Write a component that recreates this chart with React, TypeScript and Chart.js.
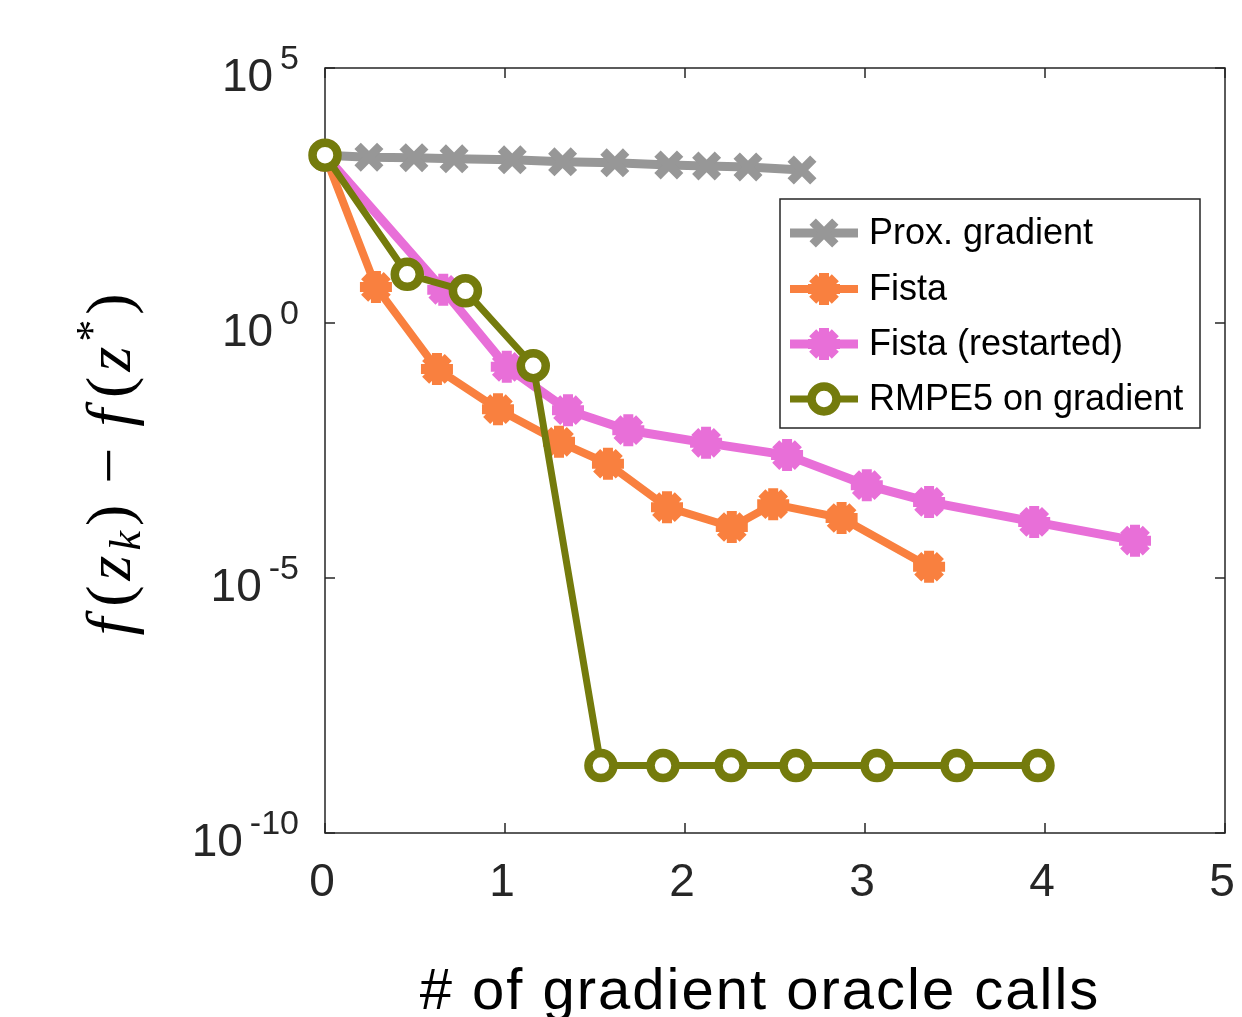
import React, { useEffect, useRef } from "react";
import { Chart, registerables } from "chart.js";

Chart.register(...registerables);

// ---------- data ----------
const seriesNames = ["Prox. gradient", "Fista", "Fista (restarted)", "RMPE5 on gradient"];

const proxX = [0, 0.244, 0.494, 0.717, 1.04, 1.32, 1.61, 1.91, 2.12, 2.35, 2.65];
const proxY = [1950, 1780, 1740, 1660, 1585, 1445, 1380, 1260, 1200, 1150, 1000];

const fistaX = [0, 0.283, 0.622, 0.961, 1.3, 1.572, 1.9, 2.26, 2.49, 2.87, 3.356];
const fistaY = [1950, 5.1, 0.126, 0.0204, 0.00468, 0.00174, 2.45e-4, 1.0e-4, 2.8e-4, 1.5e-4, 1.66e-5];

const restartX = [0, 0.657, 1.01, 1.35, 1.685, 2.117, 2.567, 3.01, 3.356, 3.94, 4.5];
const restartY = [1950, 4.47, 0.138, 0.0195, 0.0079, 0.00447, 0.00257, 6.6e-4, 3.1e-4, 1.26e-4, 5.4e-5];

const rmpeX = [0, 0.457, 0.78, 1.157, 1.533, 1.878, 2.256, 2.617, 3.067, 3.511, 3.961];
const rmpeY = [1950, 9.0, 4.27, 0.145, 2.1e-9, 2.1e-9, 2.1e-9, 2.1e-9, 2.1e-9, 2.1e-9, 2.1e-9];

const xTicks = [0, 1, 2, 3, 4, 5];
const yTickExponents = [5, 0, -5, -10];

const xTitle = "# of gradient oracle calls";

// ---------- styles ----------
const GRAY = "#979797";
const ORANGE = "#F9803F";
const PINK = "#E86FD8";
const OLIVE = "#747B0C";
const AXIS = "#262626";

const W = 1242;
const H = 1017;
// Chart.js reserves (pointRadius + pointBorderWidth) = 26 px on the right for point overflow,
// so the canvas is made that much wider than the plot's right edge (1225) and clipped by the wrapper.
const CANVAS_W = 1225 + 26;

type Marker = "crossRot" | "star" | "circle";

const seriesStyle: { color: string; marker: Marker; radius: number; bw: number; lw: number }[] = [
  { color: GRAY, marker: "crossRot", radius: 16, bw: 9, lw: 9 },
  { color: ORANGE, marker: "star", radius: 16, bw: 10, lw: 8 },
  { color: PINK, marker: "star", radius: 16, bw: 10, lw: 9 },
  { color: OLIVE, marker: "circle", radius: 12.5, bw: 8.5, lw: 7 },
];

const xs = [proxX, fistaX, restartX, rmpeX];
const ys = [proxY, fistaY, restartY, rmpeY];

function drawMarker(ctx: CanvasRenderingContext2D, m: Marker, x: number, y: number, r: number, color: string, bw: number) {
  ctx.save();
  ctx.strokeStyle = color;
  ctx.lineWidth = bw;
  ctx.beginPath();
  if (m === "circle") {
    ctx.fillStyle = "#ffffff";
    ctx.arc(x, y, r, 0, Math.PI * 2);
    ctx.fill();
    ctx.stroke();
  } else if (m === "crossRot") {
    const d = r * Math.SQRT1_2;
    ctx.moveTo(x - d, y - d);
    ctx.lineTo(x + d, y + d);
    ctx.moveTo(x - d, y + d);
    ctx.lineTo(x + d, y - d);
    ctx.stroke();
  } else {
    const d = r * Math.SQRT1_2;
    ctx.moveTo(x - r, y);
    ctx.lineTo(x + r, y);
    ctx.moveTo(x, y - r);
    ctx.lineTo(x, y + r);
    ctx.moveTo(x - d, y - d);
    ctx.lineTo(x + d, y + d);
    ctx.moveTo(x - d, y + d);
    ctx.lineTo(x + d, y - d);
    ctx.stroke();
  }
  ctx.restore();
}

const framePlugin = {
  id: "frame",
  beforeDatasetsDraw(chart: any) {
    const { ctx, chartArea: a, scales } = chart;
    ctx.save();
    ctx.strokeStyle = AXIS;
    ctx.lineWidth = 1.5;
    ctx.strokeRect(a.left, a.top, a.right - a.left, a.bottom - a.top);
    const tl = 10;
    ctx.beginPath();
    xTicks.forEach((v) => {
      const px = scales.x.getPixelForValue(v);
      ctx.moveTo(px, a.bottom);
      ctx.lineTo(px, a.bottom - tl);
      ctx.moveTo(px, a.top);
      ctx.lineTo(px, a.top + tl);
    });
    yTickExponents.forEach((e) => {
      const py = scales.y.getPixelForValue(Math.pow(10, e));
      ctx.moveTo(a.left, py);
      ctx.lineTo(a.left + tl, py);
      ctx.moveTo(a.right, py);
      ctx.lineTo(a.right - tl, py);
    });
    ctx.stroke();
    ctx.restore();
  },
  afterDraw(chart: any) {
    const { ctx, chartArea: a, scales } = chart;
    ctx.save();
    // x tick labels
    ctx.fillStyle = AXIS;
    ctx.font = '46px "Liberation Sans"';
    ctx.textAlign = "center";
    ctx.textBaseline = "middle";
    xTicks.forEach((v) => {
      ctx.fillText(String(v), scales.x.getPixelForValue(v) - 3, a.bottom + 50);
    });
    // y tick labels 10^e
    const rightEdge = a.left - 26;
    yTickExponents.forEach((e) => {
      const py = scales.y.getPixelForValue(Math.pow(10, e));
      const expStr = e < 0 ? "-" + String(-e) : String(e);
      ctx.textAlign = "right";
      ctx.textBaseline = "alphabetic";
      ctx.font = '34px "Liberation Sans"';
      const ew = ctx.measureText(expStr).width;
      ctx.fillText(expStr, rightEdge, py + 1);
      ctx.font = '46px "Liberation Sans"';
      ctx.fillText("10", rightEdge - ew - 7, py + 23);
    });
    // x title
    ctx.fillStyle = "#000000";
    ctx.font = '58px "Liberation Sans"';
    (ctx as any).letterSpacing = "2px";
    ctx.textAlign = "center";
    ctx.textBaseline = "alphabetic";
    ctx.fillText(xTitle, 760, a.bottom + 176);
    (ctx as any).letterSpacing = "0px";

    // y title: f(z_k) − f(z*)
    const big = 64;
    const small = 44;
    const gap = 5;
    const parts: { t: string; f: string; dy: number }[] = [
      { t: "f", f: `italic ${big}px "Liberation Serif"`, dy: 0 },
      { t: "(", f: `${big}px "Liberation Serif"`, dy: 0 },
      { t: "z", f: `italic ${big}px "Liberation Serif"`, dy: 0 },
      { t: "k", f: `italic ${small}px "Liberation Serif"`, dy: 10 },
      { t: ")", f: `${big}px "Liberation Serif"`, dy: 0 },
      { t: " \u2212 ", f: `${big}px "Liberation Serif"`, dy: 0 },
      { t: "f", f: `italic ${big}px "Liberation Serif"`, dy: 0 },
      { t: "(", f: `${big}px "Liberation Serif"`, dy: 0 },
      { t: "z", f: `italic ${big}px "Liberation Serif"`, dy: 0 },
      { t: "*", f: `${small}px "Liberation Serif"`, dy: -24 },
      { t: ")", f: `${big}px "Liberation Serif"`, dy: 0 },
    ];
    let total = 0;
    const widths = parts.map((p) => {
      ctx.font = p.f;
      const w = ctx.measureText(p.t).width + (p.t === "f" ? 6 : 0) + gap;
      total += w;
      return w;
    });
    ctx.translate(130, 462);
    ctx.rotate(-Math.PI / 2);
    ctx.textAlign = "left";
    ctx.textBaseline = "alphabetic";
    let cx = -total / 2;
    parts.forEach((p, i) => {
      ctx.font = p.f;
      ctx.fillText(p.t, cx, p.dy);
      cx += widths[i];
    });
    ctx.restore();

    // legend
    ctx.save();
    const lx = 780, ly = 199, lw = 420, lh = 229;
    ctx.fillStyle = "#ffffff";
    ctx.fillRect(lx, ly, lw, lh);
    ctx.strokeStyle = AXIS;
    ctx.lineWidth = 1.5;
    ctx.strokeRect(lx, ly, lw, lh);
    const rowY = [233, 289, 344, 399];
    seriesNames.forEach((name, i) => {
      const s = seriesStyle[i];
      const y = rowY[i];
      ctx.strokeStyle = s.color;
      ctx.lineWidth = s.lw;
      ctx.beginPath();
      ctx.moveTo(790, y);
      ctx.lineTo(858, y);
      ctx.stroke();
      drawMarker(ctx, s.marker, 824, y, s.radius, s.color, s.bw);
      ctx.fillStyle = "#000000";
      ctx.font = '36px "Liberation Sans"';
      ctx.textAlign = "left";
      ctx.textBaseline = "middle";
      ctx.fillText(name, 869, y + 1);
    });
    ctx.restore();
  },
};

export default function App() {
  const ref = useRef<HTMLCanvasElement | null>(null);
  useEffect(() => {
    if (!ref.current) return;
    const order = [3, 2, 1, 0]; // first dataset is drawn on top
    const datasets = order.map((i) => {
      const s = seriesStyle[i];
      return {
        label: seriesNames[i],
        data: xs[i].map((x, k) => ({ x, y: ys[i][k] })),
        borderColor: s.color,
        backgroundColor: s.marker === "circle" ? "#ffffff" : s.color,
        borderWidth: s.lw,
        pointStyle: s.marker,
        pointRadius: s.radius,
        pointBorderWidth: s.bw,
        pointBorderColor: s.color,
        pointBackgroundColor: s.marker === "circle" ? "#ffffff" : s.color,
        tension: 0,
        clip: false as any,
        borderJoinStyle: "round" as const,
      };
    });
    const chart = new Chart(ref.current, {
      type: "line",
      data: { datasets },
      options: {
        animation: false,
        responsive: false,
        devicePixelRatio: 1,
        layout: { padding: { left: 0, top: 68, right: 0, bottom: 0 } },
        plugins: { legend: { display: false }, tooltip: { enabled: false } },
        scales: {
          x: {
            type: "linear",
            min: 0,
            max: 5,
            grid: { display: false, drawTicks: false },
            border: { display: false },
            ticks: { display: false, stepSize: 1 },
            afterFit: (s: any) => {
              s.height = H - 833;
            },
          },
          y: {
            type: "logarithmic",
            min: 1e-10,
            max: 1e5,
            grid: { display: false, drawTicks: false },
            border: { display: false },
            ticks: { display: false },
            afterFit: (s: any) => {
              s.width = 325;
            },
          },
        },
      },
      plugins: [framePlugin],
    });
    return () => chart.destroy();
  }, []);
  return (
    <div style={{ position: "absolute", left: 0, top: 0, width: W, height: H, overflow: "hidden", background: "#fff" }}>
      <canvas ref={ref} width={CANVAS_W} height={H} style={{ display: "block", width: CANVAS_W, height: H }} />
    </div>
  );
}
